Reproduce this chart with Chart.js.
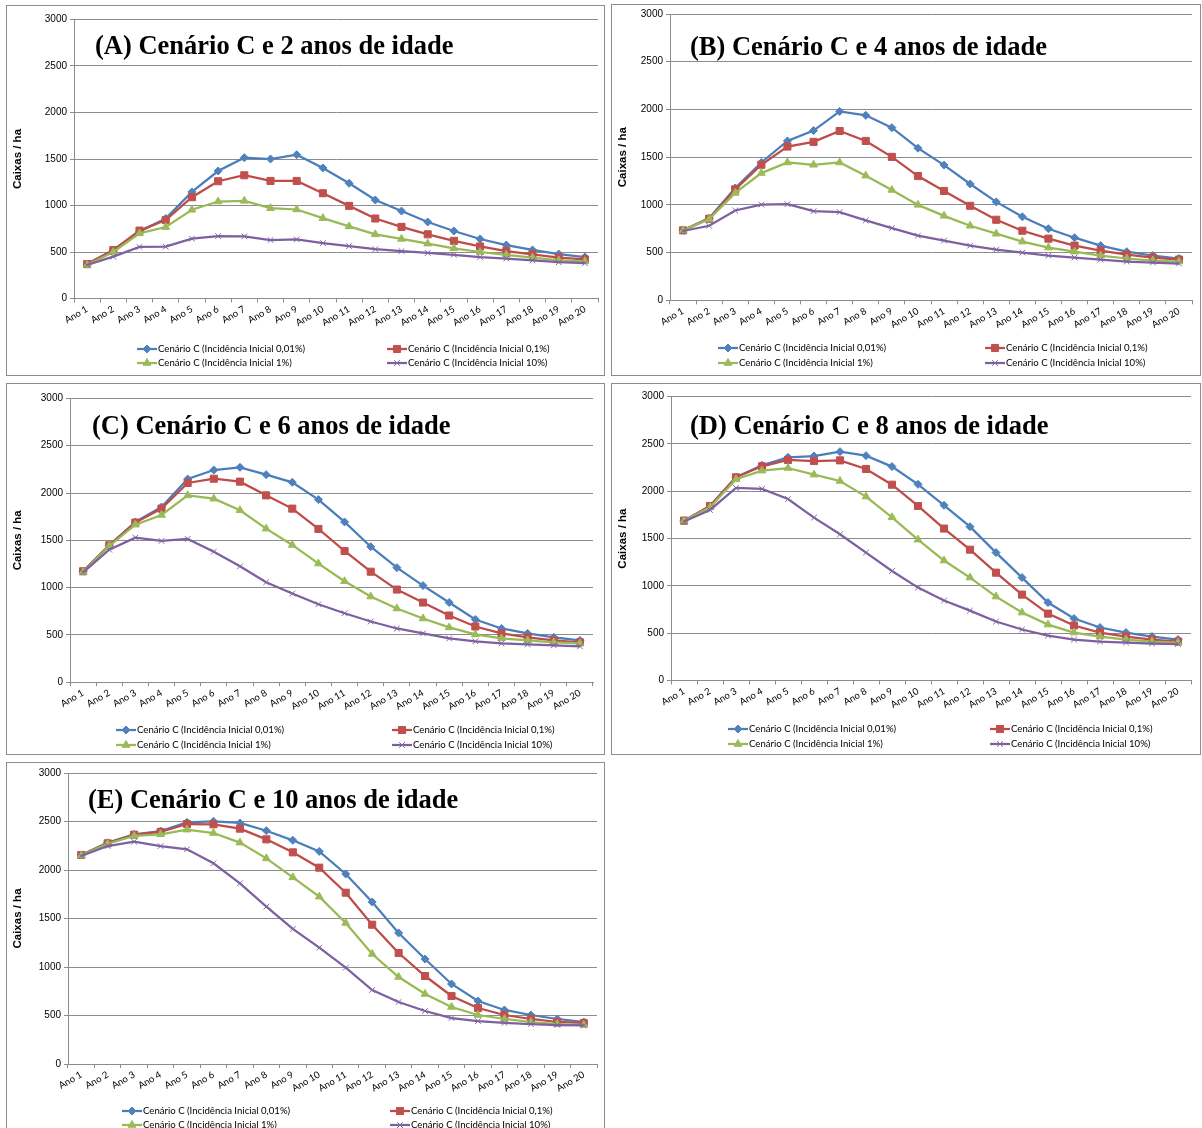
<!DOCTYPE html>
<html>
<head>
<meta charset="utf-8">
<script src="https://cdn.jsdelivr.net/npm/chart.js@4.4.0/dist/chart.umd.min.js"></script>
<style>
  html, body { margin: 0; padding: 0; background: #fff; overflow: hidden; width: 1202px; height: 1128px; }
  .caixa { position: absolute; border: 1px solid #8c8c8c; background: #fff; }
  .caixa canvas { display: block; }
</style>
</head>
<body>
<div class="caixa" style="left:6px;top:5px;width:597px;height:369px"><canvas id="grafA"></canvas></div>
<div class="caixa" style="left:611px;top:4px;width:588px;height:370px"><canvas id="grafB"></canvas></div>
<div class="caixa" style="left:6px;top:383px;width:597px;height:370px"><canvas id="grafC"></canvas></div>
<div class="caixa" style="left:611px;top:383px;width:588px;height:370px"><canvas id="grafD"></canvas></div>
<div class="caixa" style="left:6px;top:762px;width:597px;height:370px"><canvas id="grafE"></canvas></div>

<script>
// anos do horizonte de simulação
var anos = ['Ano 1','Ano 2','Ano 3','Ano 4','Ano 5','Ano 6','Ano 7','Ano 8','Ano 9','Ano 10',
            'Ano 11','Ano 12','Ano 13','Ano 14','Ano 15','Ano 16','Ano 17','Ano 18','Ano 19','Ano 20'];

var nomesSeries = [
  'Cenário C (Incidência Inicial 0,01%)',
  'Cenário C (Incidência Inicial 0,1%)',
  'Cenário C (Incidência Inicial 1%)',
  'Cenário C (Incidência Inicial 10%)'
];

var escalaY = [0, 500, 1000, 1500, 2000, 2500, 3000];

// (A) 2 anos de idade - caixas / ha
var idade2_inc001 = [370, 522, 720, 860, 1146, 1371, 1514, 1500, 1546, 1404, 1239, 1059, 940, 823, 726, 640, 575, 522, 478, 446];
var idade2_inc01  = [370, 520, 730, 843, 1089, 1261, 1325, 1264, 1264, 1132, 996, 860, 770, 690, 620, 560, 510, 475, 440, 420];
var idade2_inc1   = [360, 500, 700, 768, 954, 1043, 1050, 971, 957, 864, 775, 690, 640, 590, 540, 500, 470, 440, 410, 400];
var idade2_inc10  = [360, 450, 554, 557, 643, 671, 668, 629, 636, 596, 564, 530, 510, 490, 470, 445, 430, 410, 390, 380];

// (B) 4 anos de idade
var idade4_inc001 = [733, 861, 1177, 1444, 1670, 1778, 1979, 1938, 1809, 1594, 1417, 1219, 1031, 875, 750, 656, 573, 510, 469, 438];
var idade4_inc01  = [733, 854, 1163, 1420, 1611, 1660, 1774, 1670, 1503, 1302, 1146, 990, 844, 729, 646, 573, 521, 479, 448, 427];
var idade4_inc1   = [733, 851, 1125, 1333, 1444, 1420, 1444, 1306, 1156, 1000, 885, 781, 698, 615, 552, 510, 469, 438, 417, 406];
var idade4_inc10  = [726, 781, 941, 1003, 1007, 934, 924, 837, 757, 677, 625, 573, 531, 500, 469, 448, 427, 406, 396, 385];

// (C) 6 anos de idade
var idade6_inc001 = [1173, 1447, 1694, 1852, 2148, 2243, 2271, 2194, 2113, 1930, 1694, 1432, 1211, 1021, 842, 663, 568, 516, 474, 442];
var idade6_inc01  = [1173, 1447, 1687, 1835, 2106, 2151, 2120, 1975, 1835, 1620, 1387, 1168, 979, 842, 705, 589, 516, 474, 442, 421];
var idade6_inc1   = [1165, 1440, 1665, 1768, 1975, 1940, 1817, 1623, 1451, 1254, 1067, 905, 779, 674, 579, 505, 463, 442, 421, 410];
var idade6_inc10  = [1162, 1401, 1528, 1493, 1514, 1380, 1225, 1056, 937, 824, 729, 642, 568, 516, 463, 432, 410, 400, 389, 379];

// (D) 8 anos de idade
var idade8_inc001 = [1690, 1845, 2148, 2275, 2359, 2373, 2419, 2377, 2261, 2074, 1852, 1626, 1352, 1088, 824, 655, 560, 507, 465, 433];
var idade8_inc01  = [1690, 1845, 2148, 2264, 2331, 2320, 2327, 2236, 2070, 1845, 1606, 1383, 1140, 908, 707, 581, 507, 465, 433, 412];
var idade8_inc1   = [1690, 1831, 2127, 2218, 2246, 2176, 2109, 1944, 1725, 1489, 1268, 1088, 887, 718, 591, 507, 465, 433, 412, 401];
var idade8_inc10  = [1680, 1803, 2035, 2025, 1919, 1722, 1546, 1352, 1158, 982, 845, 739, 623, 539, 475, 433, 412, 401, 391, 385];

// (E) 10 anos de idade
var idade10_inc001 = [2155, 2282, 2368, 2402, 2491, 2502, 2485, 2405, 2306, 2192, 1959, 1670, 1351, 1082, 825, 649, 557, 505, 464, 433];
var idade10_inc01  = [2155, 2275, 2364, 2392, 2474, 2471, 2426, 2316, 2182, 2024, 1766, 1436, 1144, 907, 701, 577, 505, 464, 433, 423];
var idade10_inc1   = [2148, 2271, 2351, 2368, 2416, 2381, 2282, 2120, 1924, 1725, 1454, 1134, 897, 722, 588, 505, 464, 433, 412, 402];
var idade10_inc10  = [2144, 2247, 2292, 2247, 2213, 2069, 1863, 1622, 1392, 1199, 993, 763, 639, 546, 474, 443, 423, 412, 402, 397];

// estilo de cada série (linha, marcador)
var estilos = [
  { linha: '#4A7EBB', marca: '#4F81BD', forma: 'rectRot',  raio: 4 },
  { linha: '#BE4B48', marca: '#C0504D', forma: 'rect',     raio: 5 },
  { linha: '#98B954', marca: '#9BBB59', forma: 'triangle', raio: 4.5 },
  { linha: '#7D60A0', marca: '#8064A2', forma: 'crossRot', raio: 4 }
];

var corGrade = '#8c8c8c';
var fonteCalibri = 'Lato';

// titulo dentro da área do gráfico + legenda em duas colunas
var rotulosPlugin = {
  id: 'rotulos',
  afterDraw: function(chart, args, opts) {
    var ctx = chart.ctx, area = chart.chartArea;
    ctx.save();
    ctx.font = 'bold 26.5px "Liberation Serif"';
    ctx.fillStyle = '#000';
    ctx.textBaseline = 'alphabetic';
    ctx.textAlign = 'left';
    ctx.fillText(opts.titulo, area.left + opts.tituloX, area.top + opts.tituloY);

    ctx.font = '9.6px ' + fonteCalibri;
    ctx.textBaseline = 'middle';
    chart.data.datasets.forEach(function(ds, i) {
      var x = opts.legX[i % 2], y = opts.legY[Math.floor(i / 2)];
      ctx.strokeStyle = ds.borderColor;
      ctx.lineWidth = 2.25;
      ctx.beginPath();
      ctx.moveTo(x, y);
      ctx.lineTo(x + 20, y);
      ctx.stroke();
      ctx.fillStyle = ds.pointBackgroundColor;
      ctx.strokeStyle = ds.pointBorderColor;
      ctx.lineWidth = 1;
      Chart.helpers.drawPoint(ctx, { pointStyle: ds.pointStyle, radius: ds.pointRadius, borderWidth: 1, rotation: 0 }, x + 10, y);
      ctx.fillStyle = '#000';
      ctx.fillText(ds.label, x + 21, y);
    });
    ctx.restore();
  }
};

function criarGrafico(id, titulo, series, area, pos) {
  var canvas = document.getElementById(id);
  var W = canvas.parentNode.clientWidth, H = canvas.parentNode.clientHeight;
  var alturaX = 40;

  var datasets = series.map(function(valores, i) {
    var e = estilos[i];
    return {
      label: nomesSeries[i],
      data: valores,
      borderColor: e.linha,
      borderWidth: 2.25,
      pointStyle: e.forma,
      pointRadius: e.raio,
      pointBackgroundColor: e.marca,
      pointBorderColor: e.marca,
      pointBorderWidth: 1,
      tension: 0,
      fill: false,
      order: 3 - i
    };
  });

  return new Chart(canvas.getContext('2d'), {
    type: 'line',
    data: { labels: anos, datasets: datasets },
    options: {
      responsive: true,
      maintainAspectRatio: false,
      animation: false,
      layout: {
        padding: { left: 0, top: area.top, right: W - area.right, bottom: H - area.bottom - alturaX }
      },
      plugins: {
        legend: { display: false },
        tooltip: { enabled: false },
        rotulos: { titulo: titulo, tituloX: pos.tituloX, tituloY: pos.tituloY, legX: pos.legX, legY: pos.legY }
      },
      scales: {
        x: {
          type: 'category',
          offset: true,
          afterFit: function(s) { s.height = alturaX; },
          grid: { display: true, drawOnChartArea: false, drawTicks: true, tickLength: 4, offset: true, color: corGrade },
          border: { display: true, color: corGrade, width: 1 },
          ticks: { minRotation: 30, maxRotation: 30, autoSkip: false, padding: 1, color: '#000', font: { family: fonteCalibri, size: 9.5 } }
        },
        y: {
          min: escalaY[0],
          max: escalaY[escalaY.length - 1],
          afterFit: function(s) { s.width = area.left; },
          afterBuildTicks: function(s) { s.ticks = escalaY.map(function(v) { return { value: v }; }); },
          grid: { color: corGrade, lineWidth: 1, drawTicks: true, tickLength: 4 },
          border: { display: true, color: corGrade, width: 1 },
          ticks: {
            padding: 3, color: '#000', font: { family: 'Liberation Sans', size: 10 },
            callback: function(v) { return String(v); }
          },
          title: { display: true, text: 'Caixas / ha', color: '#000', font: { family: 'Liberation Sans', size: 11.5, weight: 'bold' }, padding: { top: 4, bottom: 0 } }
        }
      }
    },
    plugins: [rotulosPlugin]
  });
}

criarGrafico('grafA', '(A) Cenário C e 2 anos de idade',
  [idade2_inc001, idade2_inc01, idade2_inc1, idade2_inc10],
  { left: 67, top: 13.5, right: 591, bottom: 292.5 },
  { tituloX: 21, tituloY: 34, legX: [130, 380], legY: [343, 357] });

criarGrafico('grafB', '(B) Cenário C e 4 anos de idade',
  [idade4_inc001, idade4_inc01, idade4_inc1, idade4_inc10],
  { left: 58, top: 7.3, right: 580, bottom: 295.3 },
  { tituloX: 20, tituloY: 41, legX: [106, 373], legY: [343, 358] });

criarGrafico('grafC', '(C) Cenário C e 6 anos de idade',
  [idade6_inc001, idade6_inc01, idade6_inc1, idade6_inc10],
  { left: 63, top: 14.4, right: 586, bottom: 298.2 },
  { tituloX: 22, tituloY: 36, legX: [109, 385], legY: [346, 361] });

criarGrafico('grafD', '(D) Cenário C e 8 anos de idade',
  [idade8_inc001, idade8_inc01, idade8_inc1, idade8_inc10],
  { left: 59, top: 12.7, right: 579, bottom: 296.5 },
  { tituloX: 19, tituloY: 37, legX: [116, 378], legY: [345, 360] });

criarGrafico('grafE', '(E) Cenário C e 10 anos de idade',
  [idade10_inc001, idade10_inc01, idade10_inc1, idade10_inc10],
  { left: 61, top: 10, right: 590, bottom: 301 },
  { tituloX: 20, tituloY: 35, legX: [115, 383], legY: [348, 362] });
</script>
</body>
</html>
